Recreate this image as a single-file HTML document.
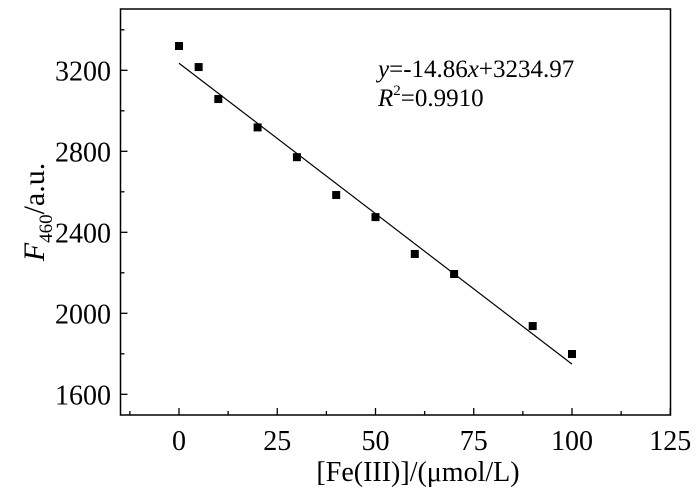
<!DOCTYPE html>
<html><head><meta charset="utf-8"><style>
html,body{margin:0;padding:0;background:#fff;}
svg text{font-family:"Liberation Serif",serif;fill:#000;}
</style></head><body>
<svg width="700" height="499" viewBox="0 0 700 499" xmlns="http://www.w3.org/2000/svg">
<g id="ticks"></g>
<g id="marks"></g>
<rect x="120.5" y="9" width="550" height="406" fill="none" stroke="#000" stroke-width="1.5"/>
<text x="378" y="77" font-size="25"><tspan font-style="italic">y</tspan>=-14.86<tspan font-style="italic">x</tspan>+3234.97</text>
<text x="378" y="106" font-size="25"><tspan font-style="italic">R</tspan><tspan font-size="15" dy="-11">2</tspan><tspan dy="11">=0.9910</tspan></text>
<text x="418" y="481" font-size="28" text-anchor="middle">[Fe(III)]/(μmol/L)</text>
<text transform="translate(44,212) rotate(-90)" font-size="30" text-anchor="middle"><tspan font-style="italic">F</tspan><tspan font-size="19" dy="8">460</tspan><tspan dy="-8">/a.u.</tspan></text>
<script>
const xs=[0,5,10,20,30,40,50,60,70,90,100];
const ys=[3320,3216,3058,2918,2771,2584,2475,2293,2194,1937,1799];
const xTicks=[0,25,50,75,100,125];
const yTicks=[1600,2000,2400,2800,3200];
const slope=-14.86, intercept=3234.97;
const X=v=>179+v*3.93;
const Y=v=>70.3+(3200-v)*0.2025;
const NS="http://www.w3.org/2000/svg";
const tg=document.getElementById('ticks'), mg=document.getElementById('marks');
function mk(tag,at,p){const e=document.createElementNS(NS,tag);for(const k in at)e.setAttribute(k,at[k]);p.appendChild(e);return e;}
for(let v=-12.5;v<=125;v+=12.5){
  const major=xTicks.includes(v);
  const l=mk('line',{x1:X(v),x2:X(v),y1:415,y2:415-(major?7:4),stroke:'#000','stroke-width':1.3},tg);
  
  
}
xTicks.forEach(v=>{const t=mk('text',{x:X(v),y:450,'font-size':28,'text-anchor':'middle'},tg);t.textContent=v;
  
  });
for(let v=1600;v<=3400;v+=200){
  const major=yTicks.includes(v);
  const l=mk('line',{x1:120.5,x2:120.5+(major?7:4),y1:Y(v),y2:Y(v),stroke:'#000','stroke-width':1.3},tg);
  
  
}
yTicks.forEach(v=>{const t=mk('text',{x:111,y:Y(v)+10,'font-size':28,'text-anchor':'end'},tg);t.textContent=v;
  
  });
const fl=mk('line',{x1:X(0),y1:Y(intercept),x2:X(100),y2:Y(intercept+slope*100),stroke:'#000','stroke-width':1.2},mg);


xs.forEach((x,i)=>{const r=mk('rect',{x:X(x)-4,y:Y(ys[i])-4,width:8,height:8,fill:'#000'},mg);
  
  });
</script>
</svg>
</body></html>
